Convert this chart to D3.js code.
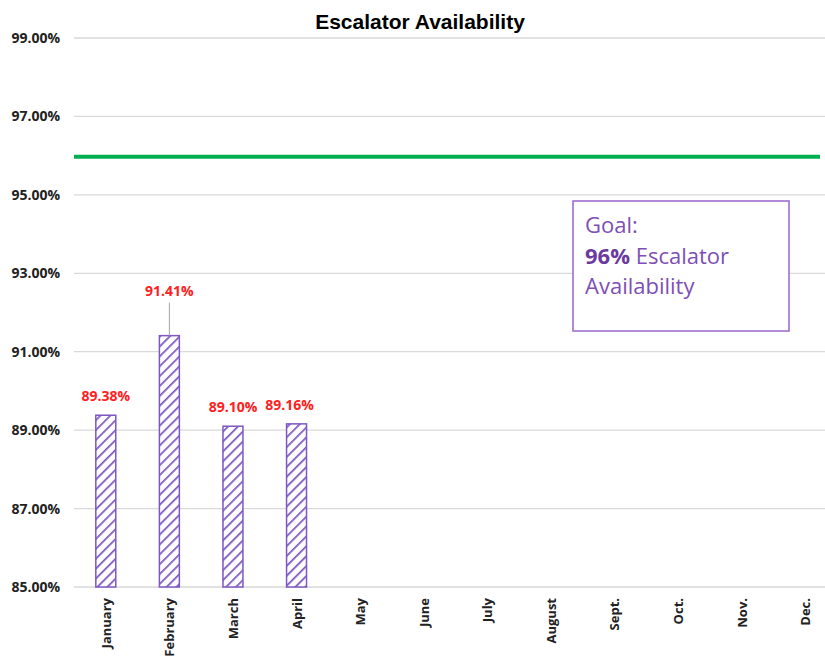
<!DOCTYPE html>
<meta charset="utf-8">
<style>
  body { margin: 0; background: #fff; }
  text { font-family: "Open Sans", "Noto Sans", sans-serif; }
</style>
<svg class="chart"></svg>
<script src="https://d3js.org/d3.v7.min.js"></script>
<script>
  var months = ["January", "February", "March", "April", "May", "June", "July", "August", "Sept.", "Oct.", "Nov.", "Dec."];
  var availability = [89.38, 91.41, 89.10, 89.16];
  var yTicks = [85, 87, 89, 91, 93, 95, 97, 99];
  var goal = 96;

  var width = 825, height = 656;
  var plotLeft = 74, plotRight = 837, plotTop = 38, plotBottom = 587;

  var chart = d3.select(".chart")
      .attr("width", width)
      .attr("height", height);

  var x = d3.scaleBand().domain(months).range([plotLeft, plotRight]).paddingInner(0.686).paddingOuter(0.343);
  var y = d3.scaleLinear().domain([85, 99]).range([plotBottom, plotTop]);

  var purple = "#7E57C2";

  var defs = chart.append("defs");
  var pat = defs.append("pattern")
      .attr("id", "hatch")
      .attr("patternUnits", "userSpaceOnUse")
      .attr("width", 7).attr("height", 7)
      .attr("patternTransform", "rotate(45)");
  pat.append("rect").attr("width", 7).attr("height", 7).attr("fill", "#fff");
  pat.append("line")
      .attr("x1", 0).attr("y1", 0).attr("x2", 0).attr("y2", 7)
      .attr("stroke", purple).attr("stroke-width", 3.5);

  // title
  chart.append("text")
      .attr("x", 420).attr("y", 29)
      .attr("text-anchor", "middle")
      .attr("font-size", 21).attr("font-weight", "bold")
      .style("font-family", "'Liberation Sans', sans-serif")
      .text("Escalator Availability");

  // gridlines
  chart.append("g").selectAll("line")
    .data(yTicks)
    .enter().append("line")
      .attr("x1", plotLeft).attr("x2", width)
      .attr("y1", function(d) { return y(d); })
      .attr("y2", function(d) { return y(d); })
      .attr("stroke", "#d9d9d9").attr("stroke-width", 1.3);

  // y labels
  chart.append("g").selectAll("text")
    .data(yTicks)
    .enter().append("text")
      .attr("x", 60)
      .attr("y", function(d) { return y(d) + 5; })
      .attr("text-anchor", "end")
      .attr("font-size", 14).attr("font-weight", "bold")
      .attr("fill", "#222")
      .text(function(d) { return d.toFixed(2) + "%"; });

  // x labels
  chart.append("g").selectAll("text")
    .data(months)
    .enter().append("text")
      .attr("transform", function(d) {
        return "translate(" + (x(d) + x.bandwidth() / 2 + 5) + "," + 598 + ") rotate(-90)";
      })
      .attr("text-anchor", "end")
      .attr("font-size", 13).attr("font-weight", "bold")
      .attr("fill", "#222")
      .text(function(d) { return d; });

  // bars
  chart.append("g").selectAll("rect")
    .data(availability)
    .enter().append("rect")
      .attr("x", function(d, i) { return x(months[i]); })
      .attr("y", function(d) { return y(d); })
      .attr("width", x.bandwidth())
      .attr("height", function(d) { return plotBottom - y(d); })
      .attr("fill", "url(#hatch)")
      .attr("stroke", purple).attr("stroke-width", 1.5);

  // data labels
  var labelDy = [-14, -40, -14, -14];
  var labelDx = [0, 0, 0, -7];
  chart.append("g").selectAll("text")
    .data(availability)
    .enter().append("text")
      .attr("x", function(d, i) { return x(months[i]) + x.bandwidth() / 2 + labelDx[i]; })
      .attr("y", function(d, i) { return y(d) + labelDy[i]; })
      .attr("text-anchor", "middle")
      .attr("font-size", 14).attr("font-weight", "bold")
      .attr("fill", "#ff2020")
      .text(function(d) { return d.toFixed(2) + "%"; });

  // leader line for February
  chart.append("line")
    .attr("x1", x(months[1]) + x.bandwidth() / 2)
    .attr("x2", x(months[1]) + x.bandwidth() / 2)
    .attr("y1", y(availability[1]) - 33)
    .attr("y2", y(availability[1]))
    .attr("stroke", "#a6a6a6").attr("stroke-width", 1);

  // goal line
  chart.append("line")
    .attr("x1", plotLeft).attr("x2", 820)
    .attr("y1", y(goal) + 1).attr("y2", y(goal) + 1)
    .attr("stroke", "#00B050").attr("stroke-width", 4);

  // goal box
  var box = chart.append("g");
  box.append("rect")
    .attr("x", 573).attr("y", 201).attr("width", 216).attr("height", 130)
    .attr("fill", "#fff").attr("stroke", "#9966CC").attr("stroke-width", 1.5);
  var goalColor = "#7E4FB5";
  box.append("text")
    .attr("x", 585).attr("y", 233)
    .attr("font-size", 22).attr("fill", goalColor)
    .text("Goal:");
  var t2 = box.append("text")
    .attr("x", 585).attr("y", 264)
    .attr("font-size", 22).attr("fill", goalColor);
  t2.append("tspan").attr("font-weight", "bold").attr("fill", "#6A3A9E").text("96%");
  t2.append("tspan").text(" Escalator");
  box.append("text")
    .attr("x", 585).attr("y", 294)
    .attr("font-size", 22).attr("fill", goalColor)
    .text("Availability");
</script>
